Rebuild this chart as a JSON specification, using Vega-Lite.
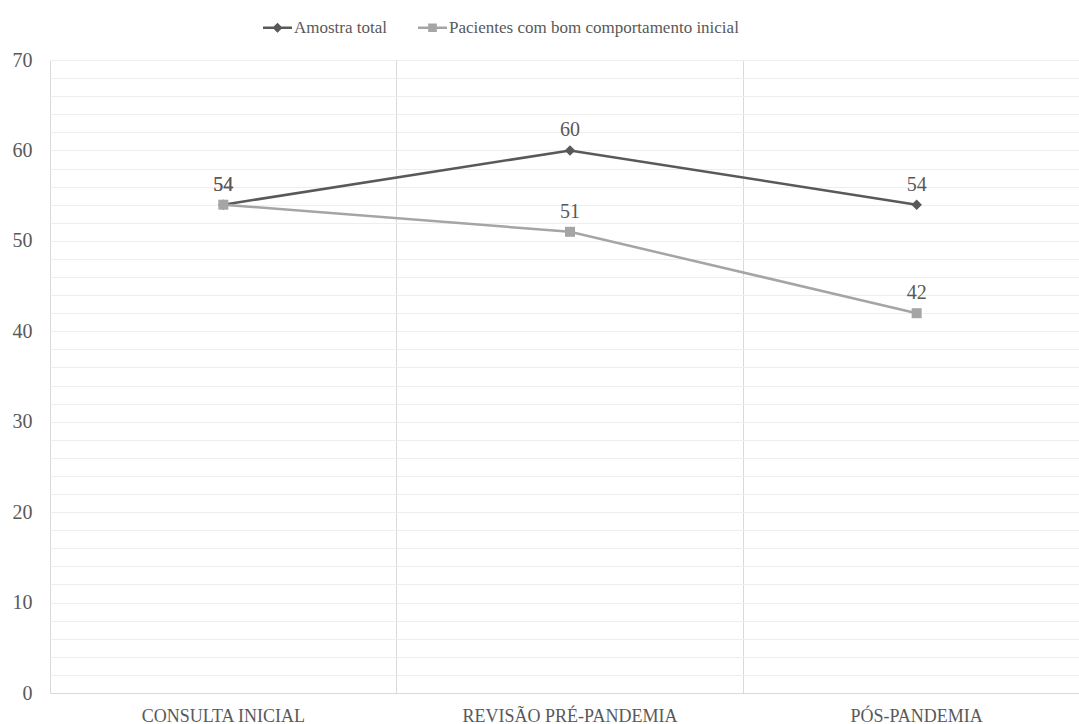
{
  "$schema": "https://vega.github.io/schema/vega-lite/v6.json",
  "autosize": {"type": "none"},
  "padding": {"left": 50, "top": 60, "right": 0, "bottom": 31},
  "width": 1040,
  "height": 633,
  "background": "white",
  "config": {
    "view": {"stroke": null},
    "font": "Liberation Serif"
  },
  "data": {
    "values": [
      {"etapa": "CONSULTA INICIAL", "serie": "Amostra total", "valor": 54},
      {"etapa": "REVISÃO PRÉ-PANDEMIA", "serie": "Amostra total", "valor": 60},
      {"etapa": "PÓS-PANDEMIA", "serie": "Amostra total", "valor": 54},
      {"etapa": "CONSULTA INICIAL", "serie": "Pacientes com bom comportamento inicial", "valor": 54},
      {"etapa": "REVISÃO PRÉ-PANDEMIA", "serie": "Pacientes com bom comportamento inicial", "valor": 51},
      {"etapa": "PÓS-PANDEMIA", "serie": "Pacientes com bom comportamento inicial", "valor": 42}
    ]
  },
  "encoding": {
    "x": {
      "field": "etapa", "type": "nominal", "sort": null,
      "scale": {"type": "band", "paddingInner": 0, "paddingOuter": 0},
      "axis": {
        "title": null, "labelAngle": 0, "ticks": false, "tickSize": 0,
        "domainColor": "#d9d9d9", "domainWidth": 1,
        "grid": true, "gridColor": "#d9d9d9", "bandPosition": 0,
        "labelFont": "Liberation Serif", "labelFontSize": 18, "labelColor": "#595959",
        "labelPadding": 14, "labelLimit": 0
      }
    },
    "y": {
      "field": "valor", "type": "quantitative",
      "scale": {"domain": [0, 70], "nice": false},
      "axis": {
        "title": null,
        "values": [0,2,4,6,8,10,12,14,16,18,20,22,24,26,28,30,32,34,36,38,40,42,44,46,48,50,52,54,56,58,60,62,64,66,68,70],
        "labelExpr": "datum.value % 10 === 0 ? datum.label : ''",
        "ticks": false, "tickSize": 0, "domain": false,
        "gridColor": "#eeeeee", "gridWidth": 1,
        "labelFont": "Liberation Serif", "labelFontSize": 20, "labelColor": "#595959",
        "labelPadding": 18
      }
    },
    "color": {
      "field": "serie", "type": "nominal",
      "scale": {"domain": ["Amostra total", "Pacientes com bom comportamento inicial"], "range": ["#595959", "#a5a5a5"]},
      "legend": {
        "orient": "none", "legendX": 213, "legendY": -47,
        "direction": "horizontal", "title": null,
        "symbolSize": 841, "symbolStrokeWidth": 0,
        "symbolType": "M-1,-0.086H1V0.086H-1Z M-0.3,-0.3H0.3V0.3H-0.3Z",
        "labelFont": "Liberation Serif", "labelFontSize": 17, "labelColor": "#595959",
        "labelOffset": 2, "columnPadding": 30, "labelLimit": 0,
        "encode": {
          "labels": {
            "update": {
              "font": {"value": "Liberation Serif"}
            }
          },
          "symbols": {
            "update": {
              "shape": [
                {"test": "datum.value === 'Amostra total'", "value": "M-1,-0.086H1V0.086H-1Z M-0.35,0L0,-0.35L0.35,0L0,0.35Z"},
                {"value": "M-1,-0.086H1V0.086H-1Z M-0.3,-0.3H0.3V0.3H-0.3Z"}
              ],
              "fill": [
                {"test": "datum.value === 'Amostra total'", "value": "#595959"},
                {"value": "#a5a5a5"}
              ],
              "stroke": {"value": "transparent"},
              "strokeWidth": {"value": 0},
              "opacity": {"value": 1}
            }
          }
        }
      }
    }
  },
  "layer": [
    {
      "mark": {"type": "line", "strokeWidth": 2.5}
    },
    {
      "transform": [{"filter": "datum.serie === 'Amostra total'"}],
      "mark": {"type": "point", "filled": true, "opacity": 1, "size": 110, "shape": "diamond"}
    },
    {
      "transform": [{"filter": "datum.serie !== 'Amostra total'"}],
      "mark": {"type": "point", "filled": true, "opacity": 1, "size": 100, "shape": "square"}
    },
    {
      "mark": {"type": "text", "dy": -20, "fontSize": 20, "font": "Liberation Serif", "color": "#595959"},
      "encoding": {
        "text": {"field": "valor", "type": "quantitative"},
        "color": {"value": "#595959"}
      }
    }
  ]
}
